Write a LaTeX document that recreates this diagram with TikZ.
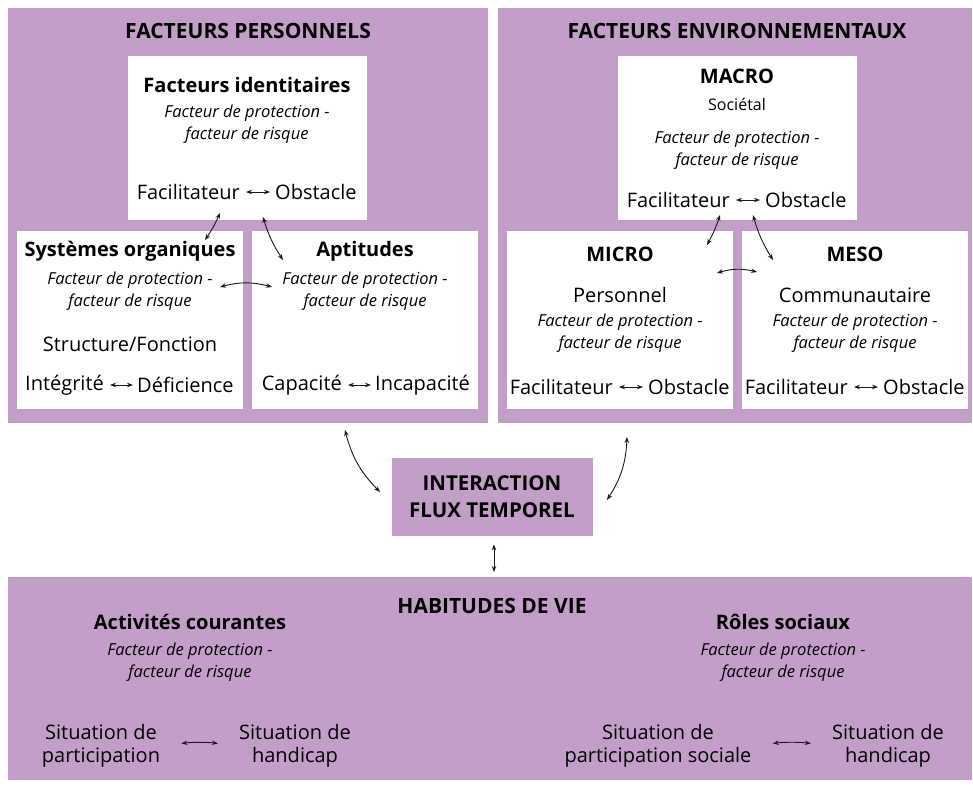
\documentclass[tikz,border=0pt]{standalone}
\usepackage{fontspec}
\setmainfont{Open Sans}
\usetikzlibrary{arrows.meta}
\definecolor{mauve}{RGB}{195,158,200}

\begin{document}
\begin{tikzpicture}[x=1pt,y=-1pt,
    cadre/.style={inner sep=0pt,anchor=north west},
    titre/.style={font=\fontsize{21}{24}\selectfont\bfseries},
    soustitre/.style={font=\fontsize{20}{23}\selectfont\bfseries},
    ital/.style={font=\fontsize{16.5}{22}\selectfont\itshape,align=center},
    texte/.style={font=\fontsize{20}{23}\selectfont,align=center},
    fl/.style={{Stealth[length=6pt,width=4.5pt]}-{Stealth[length=6pt,width=4.5pt]},line width=0.9pt,black!90}]
  \useasboundingbox (0,0) rectangle (973,785);

  % fonds mauves
  \node[cadre,fill=mauve,minimum width=480pt,minimum height=415pt] (perso) at (8,8) {};
  \node[cadre,fill=mauve,minimum width=474pt,minimum height=415pt] (envir) at (498,8) {};
  \node[cadre,fill=mauve,minimum width=964pt,minimum height=203pt] (habit) at (8,577) {};
  \node[cadre,fill=mauve,minimum width=201pt,minimum height=78pt] (inter) at (392,458) {};

  % cadres blancs
  \node[cadre,fill=white,minimum width=239pt,minimum height=164pt] (ident) at (128,56) {};
  \node[cadre,fill=white,minimum width=226pt,minimum height=178pt] (syst) at (17,231) {};
  \node[cadre,fill=white,minimum width=226pt,minimum height=178pt] (apti) at (252,231) {};
  \node[cadre,fill=white,minimum width=239pt,minimum height=164pt] (macro) at (618,56) {};
  \node[cadre,fill=white,minimum width=226pt,minimum height=178pt] (micro) at (507,231) {};
  \node[cadre,fill=white,minimum width=226pt,minimum height=178pt] (meso) at (742,231) {};

  % titres
  \draw
    (248,31) node[titre] (tPerso){FACTEURS PERSONNELS}
    (737,31) node[titre] (tEnvir){FACTEURS ENVIRONNEMENTAUX}
    (492,606) node[titre] (tHabit){HABITUDES DE VIE}
    (492,497) node[titre,align=center,font=\fontsize{20.5}{27}\selectfont\bfseries] (tInter){INTERACTION\\FLUX TEMPOREL};

  % facteurs personnels
  \draw
    (247,85) node[soustitre] (tIdent){Facteurs identitaires}
    (247,124) node[ital] (iIdent){Facteur de protection -\\facteur de risque}
    (240,192) node[texte,anchor=east,inner sep=0pt] (fac1){Facilitateur}
    (275,192) node[texte,anchor=west,inner sep=0pt] (obs1){Obstacle}
    (130,251) node[soustitre] (tSyst){Systèmes organiques}
    (130,291) node[ital] (iSyst){Facteur de protection -\\facteur de risque}
    (130,344) node[texte] (struct){Structure/Fonction}
    (104,385) node[texte,anchor=east,inner sep=0pt] (integ){Intégrité}
    (137,385) node[texte,anchor=west,inner sep=0pt] (defic){Déficience}
    (365,251) node[soustitre] (tApti){Aptitudes}
    (365,291) node[ital] (iApti){Facteur de protection -\\facteur de risque}
    (342,385) node[texte,anchor=east,inner sep=0pt] (capa){Capacité}
    (375,385) node[texte,anchor=west,inner sep=0pt] (incapa){Incapacité};

  % facteurs environnementaux
  \draw
    (737,76) node[soustitre] (tMacro){MACRO}
    (737,104) node[texte,font=\fontsize{16}{20}\selectfont] (soc){Sociétal}
    (737,150) node[ital] (iMacro){Facteur de protection -\\facteur de risque}
    (730,200) node[texte,anchor=east,inner sep=0pt] (fac2){Facilitateur}
    (765,200) node[texte,anchor=west,inner sep=0pt] (obs2){Obstacle}
    (620,254) node[soustitre] (tMicro){MICRO}
    (620,295) node[texte] (perso2){Personnel}
    (620,333) node[ital] (iMicro){Facteur de protection -\\facteur de risque}
    (613,387) node[texte,anchor=east,inner sep=0pt] (fac3){Facilitateur}
    (648,387) node[texte,anchor=west,inner sep=0pt] (obs3){Obstacle}
    (855,254) node[soustitre] (tMeso){MESO}
    (855,295) node[texte] (commu){Communautaire}
    (855,333) node[ital] (iMeso){Facteur de protection -\\facteur de risque}
    (848,387) node[texte,anchor=east,inner sep=0pt] (fac4){Facilitateur}
    (883,387) node[texte,anchor=west,inner sep=0pt] (obs4){Obstacle};

  % habitudes de vie
  \draw
    (190,622) node[soustitre] (tActi){Activités courantes}
    (190,662) node[ital] (iActi){Facteur de protection -\\facteur de risque}
    (101,746) node[texte] (sPart){Situation de\\participation}
    (295,746) node[texte] (sHand1){Situation de\\handicap}
    (783,622) node[soustitre] (tRole){Rôles sociaux}
    (783,662) node[ital] (iRole){Facteur de protection -\\facteur de risque}
    (658,746) node[texte] (sPartSoc){Situation de\\participation sociale}
    (888,746) node[texte] (sHand2){Situation de\\handicap};

  % points d'attache
  \coordinate (pA) at (220,213);
  \coordinate (pB) at (205,240);
  \coordinate (pC) at (263,217);
  \coordinate (pD) at (283,260);
  \coordinate (pE) at (220,287);
  \coordinate (pF) at (272,287);
  \coordinate (pG) at (720,215);
  \coordinate (pH) at (707,245);
  \coordinate (pI) at (753,215);
  \coordinate (pJ) at (773,260);
  \coordinate (pK) at (717,273);
  \coordinate (pL) at (757,272);
  \coordinate (pM) at (345,430);
  \coordinate (pN) at (380,492);
  \coordinate (pO) at (627,437);
  \coordinate (pP) at (607,500);

  \begin{scope}[fl]
    \draw[shorten <=6pt,shorten >=5pt] (fac1) -- (obs1);
    \draw[shorten <=6pt,shorten >=5pt] (fac2) -- (obs2);
    \draw[shorten <=6pt,shorten >=5pt] (fac3) -- (obs3);
    \draw[shorten <=6pt,shorten >=5pt] (fac4) -- (obs4);
    \draw[shorten <=6pt,shorten >=4pt] (integ) -- (defic);
    \draw[shorten <=6pt,shorten >=4pt] (capa) -- (incapa);
    \draw[shorten <=18pt,shorten >=18pt] (sPart.east) to[bend left=8] (sHand1.west);
    \draw[shorten <=18pt,shorten >=18pt] (sPartSoc.east) to[bend left=8] (sHand2.west);
    \draw (pA) to[bend left=5] (pB);
    \draw (pC) to[bend right=8] (pD);
    \draw (pE) to[bend left=15] (pF);
    \draw (pG) to[bend left=5] (pH);
    \draw (pI) to[bend right=8] (pJ);
    \draw (pK) to[bend left=15] (pL);
    \draw (pM) to[bend right=15] (pN);
    \draw (pO) to[bend left=15] (pP);
    \draw[shorten <=8pt,shorten >=5pt] (inter.south -| 494,0) -- (habit.north -| 494,0);
  \end{scope}
\end{tikzpicture}
\end{document}
